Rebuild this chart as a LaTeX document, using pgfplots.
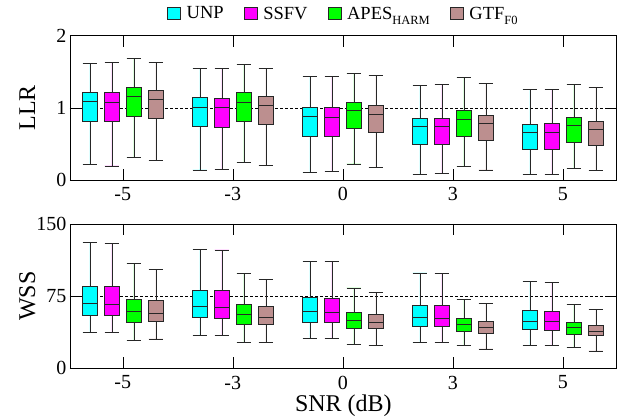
\documentclass[border=0pt]{standalone}
\usepackage{fontspec}
\setmainfont{Liberation Serif}
\usepackage{pgfplots}
\pgfplotsset{compat=1.18}
\usepgfplotslibrary{statistics}

\definecolor{unp}{RGB}{0,255,255}
\definecolor{ssfv}{RGB}{255,0,255}
\definecolor{apes}{RGB}{0,255,0}
\definecolor{gtf}{RGB}{188,143,143}

% one prepared box: colour, position, lower whisker, Q1, median, Q3, upper whisker
\newcommand{\bx}[7]{%
  \addplot[forget plot, draw=black!85, fill=#1, line width=0.6pt,
    boxplot prepared={draw position=#2, lower whisker=#3, lower quartile=#4,
      median=#5, upper quartile=#6, upper whisker=#7}]
    coordinates {};}
\newcommand{\sub}[1]{\raisebox{-5pt}{\fontsize{12.5}{12.5}\selectfont #1}}

\pgfplotsset{
  snr/.style={
    scale only axis, width=546.7pt, height=144.3pt,
    xmin=-0.48, xmax=4.49, xtick={0,1,2,3,4}, xticklabels={-5,-3,0,3,5},
    tick align=inside, major tick length=11pt,
    tick style={black, line width=0.6pt},
    axis line style={black, line width=0.8pt},
    tick label style={font=\fontsize{20}{20}\selectfont},
    xticklabel style={yshift=-4pt},
    label style={font=\fontsize{24}{24}\selectfont},
    ylabel style={at={(axis description cs:-0.064,0.5)}, anchor=base},
    /pgf/number format/assume math mode=true,
    boxplot/draw direction=y,
    boxplot/box extend=0.13, boxplot/whisker extend=0.13,
  },
}

\begin{document}
\begin{tikzpicture}
\useasboundingbox (-70pt,-50.7pt) rectangle (558pt,368.3pt);

% ---- WSS (bottom) ----
\begin{axis}[snr, at={(0,0)}, anchor=south west,
  ymin=0, ymax=150, ytick={0,75,150},
  ylabel=WSS, xlabel={SNR (dB)},
  xlabel style={at={(axis description cs:0.5,0)}, anchor=base, yshift=-43.4pt}]
\addplot[forget plot, densely dashed, black, line width=0.5pt] coordinates {(-0.48,75) (4.49,75)};
% SNR -5
\bx{unp}{-0.3}{37.4}{55.1}{67.6}{85.6}{131}
\bx{ssfv}{-0.1}{37.0}{55.1}{66.8}{84.8}{130}
\bx{apes}{0.1}{28.7}{47.8}{59.2}{72.0}{109.1}
\bx{gtf}{0.3}{30.5}{49.2}{57.1}{71.0}{102.5}
% SNR -3
\bx{unp}{0.7}{34.3}{52.6}{64.1}{81.1}{124}
\bx{ssfv}{0.9}{34.3}{52.0}{63.7}{80.7}{123}
\bx{apes}{1.1}{26.6}{45.7}{56.1}{66.5}{98.7}
\bx{gtf}{1.3}{27.3}{45.7}{53.3}{64.8}{92.5}
% SNR 0
\bx{unp}{1.7}{31.2}{48.1}{58.8}{73.8}{111.5}
\bx{ssfv}{1.9}{31.2}{47.8}{58.2}{72.8}{110.8}
\bx{apes}{2.1}{24.9}{41.9}{50.2}{58.5}{83.5}
\bx{gtf}{2.3}{23.9}{41.6}{47.8}{56.4}{79.3}
% SNR 3
\bx{unp}{2.7}{27.0}{43.7}{53.0}{65.5}{99.1}
\bx{ssfv}{2.9}{27.0}{43.2}{52.3}{65.1}{98.7}
\bx{apes}{3.1}{23.5}{38.1}{45.7}{52.0}{72.0}
\bx{gtf}{3.3}{20.1}{36.4}{42.6}{48.9}{67.2}
% SNR 5
\bx{unp}{3.7}{23.9}{40.5}{48.9}{60.3}{90.0}
\bx{ssfv}{3.9}{23.9}{39.5}{48.4}{59.6}{89.4}
\bx{apes}{4.1}{21.8}{35.7}{42.2}{47.8}{66.1}
\bx{gtf}{4.3}{18.0}{33.9}{38.8}{44.7}{61.3}
\end{axis}

% ---- LLR (top) ----
\begin{axis}[snr, at={(0,188.3pt)}, anchor=south west,
  ymin=0, ymax=2, ytick={0,1,2}, ylabel=LLR,
  legend image code/.code={\draw[#1, line width=0.6pt] (0pt,-6pt) rectangle (13pt,6pt);},
  legend style={at={(0.5,1)}, anchor=center, yshift=22pt, draw=none, fill=none,
    legend columns=4, font=\fontsize{18.5}{18.5}\selectfont,
    column sep=0pt}]
\addplot[forget plot, densely dashed, black, line width=0.5pt] coordinates {(-0.48,1) (4.49,1)};
% SNR -5
\bx{unp}{-0.3}{0.217}{0.813}{1.094}{1.219}{1.616}
\bx{ssfv}{-0.1}{0.194}{0.813}{1.076}{1.219}{1.625}
\bx{apes}{0.1}{0.314}{0.886}{1.159}{1.279}{1.680}
\bx{gtf}{0.3}{0.267}{0.854}{1.112}{1.242}{1.625}
% SNR -3
\bx{unp}{0.7}{0.139}{0.738}{1.011}{1.140}{1.547}
\bx{ssfv}{0.9}{0.148}{0.729}{1.006}{1.136}{1.547}
\bx{apes}{1.1}{0.249}{0.808}{1.080}{1.210}{1.607}
\bx{gtf}{1.3}{0.203}{0.771}{1.039}{1.159}{1.547}
% SNR 0
\bx{unp}{1.7}{0.106}{0.609}{0.882}{1.007}{1.440}
\bx{ssfv}{1.9}{0.120}{0.609}{0.868}{1.007}{1.440}
\bx{apes}{2.1}{0.222}{0.711}{0.965}{1.076}{1.482}
\bx{gtf}{2.3}{0.176}{0.660}{0.910}{1.030}{1.454}
% SNR 3
\bx{unp}{2.7}{0.083}{0.499}{0.743}{0.859}{1.306}
\bx{ssfv}{2.9}{0.092}{0.489}{0.743}{0.859}{1.320}
\bx{apes}{3.1}{0.185}{0.600}{0.845}{0.965}{1.417}
\bx{gtf}{3.3}{0.139}{0.550}{0.790}{0.896}{1.339}
% SNR 5
\bx{unp}{3.7}{0.074}{0.420}{0.660}{0.766}{1.251}
\bx{ssfv}{3.9}{0.083}{0.420}{0.660}{0.780}{1.256}
\bx{apes}{4.1}{0.162}{0.526}{0.757}{0.868}{1.320}
\bx{gtf}{4.3}{0.129}{0.480}{0.702}{0.808}{1.279}
\addlegendimage{fill=unp, draw=black!85}
\addlegendentry{\hspace*{4pt}UNP\hspace*{18pt}}
\addlegendimage{fill=ssfv, draw=black!85}
\addlegendentry{\hspace*{4pt}SSFV\hspace*{18pt}}
\addlegendimage{fill=apes, draw=black!85}
\addlegendentry{\hspace*{4pt}APES\sub{HARM}\hspace*{18pt}}
\addlegendimage{fill=gtf, draw=black!85}
\addlegendentry{\hspace*{4pt}GTF\sub{F0}}
\end{axis}
\end{tikzpicture}
\end{document}
